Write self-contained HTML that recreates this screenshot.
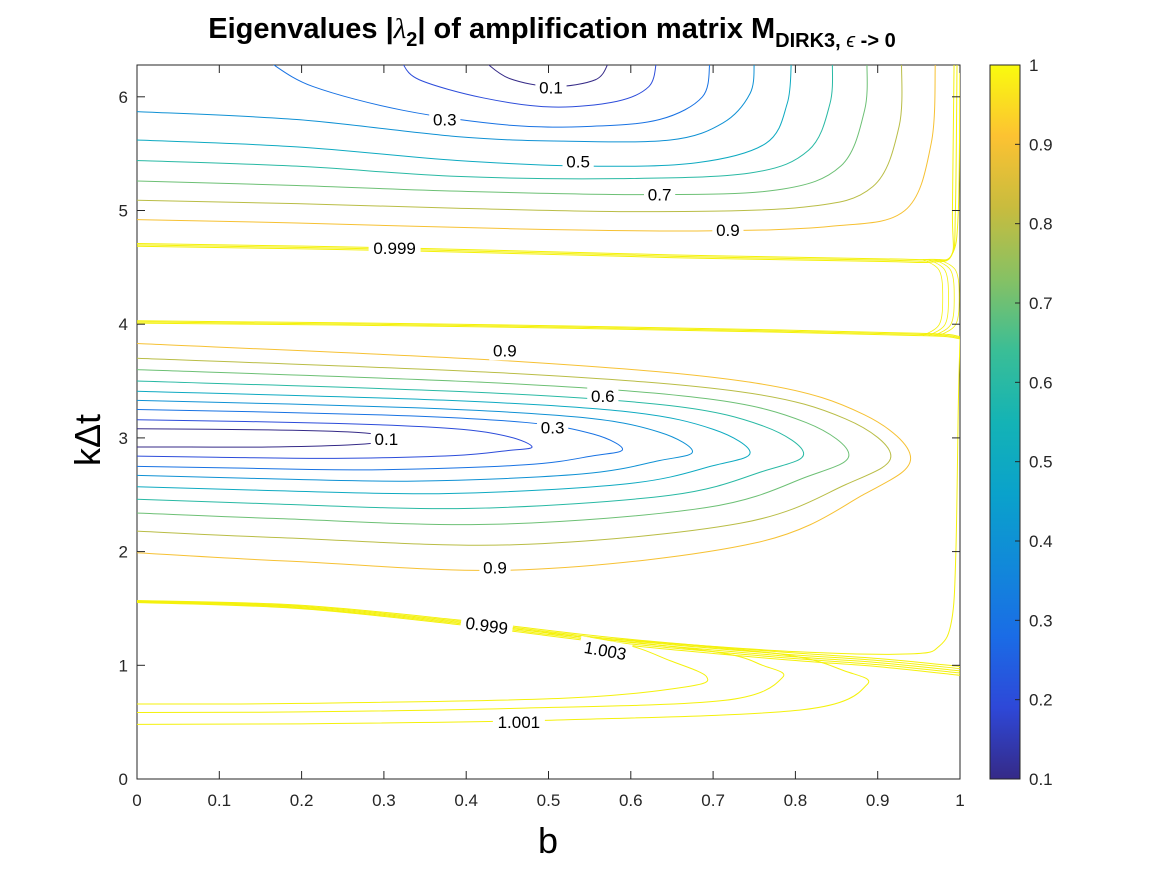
<!DOCTYPE html>
<html><head><meta charset="utf-8"><style>
body{margin:0;background:#fff;width:1167px;height:875px;overflow:hidden;font-family:"Liberation Sans",sans-serif}
svg text{font-family:"Liberation Sans",sans-serif}
</style></head><body>
<svg id="chart" width="1167" height="875" viewBox="0 0 1167 875">
<defs>
<linearGradient id="parula" x1="0" y1="1" x2="0" y2="0">
<stop offset="0" stop-color="#352a87"/><stop offset="0.1" stop-color="#2e48d8"/><stop offset="0.2" stop-color="#1a6ce6"/>
<stop offset="0.3" stop-color="#1189d9"/><stop offset="0.4" stop-color="#0aa2cb"/><stop offset="0.5" stop-color="#14b3b5"/>
<stop offset="0.6" stop-color="#3abe96"/><stop offset="0.7" stop-color="#86c164"/><stop offset="0.8" stop-color="#c8bc3e"/>
<stop offset="0.9" stop-color="#fcc232"/><stop offset="1" stop-color="#f9fb0e"/></linearGradient>
<clipPath id="plotclip"><rect x="137" y="65" width="823" height="714"/></clipPath>
</defs>
<text x="552" y="38" text-anchor="middle" font-size="29" font-weight="bold">Eigenvalues |<tspan font-style="italic" font-weight="normal" font-family="Liberation Serif">λ</tspan><tspan font-size="20" dy="8">2</tspan><tspan dy="-8">| of amplification matrix M</tspan><tspan font-size="20" dy="9">DIRK3, <tspan font-style="italic" font-weight="normal">ϵ</tspan> -&gt; 0</tspan></text>
<rect x="137" y="65" width="823" height="714" fill="#fff" stroke="#262626" stroke-width="1"/>
<g id="contours" clip-path="url(#plotclip)"></g>
<g id="labels"></g>
<g id="axes"></g>
<text x="548" y="853" text-anchor="middle" font-size="36">b</text>
<text transform="translate(100,440) rotate(-90)" text-anchor="middle" font-size="36">kΔt</text>
<rect x="990" y="65" width="30" height="714" fill="url(#parula)" stroke="#262626" stroke-width="1"/>
<g id="cbar"></g>
</svg>
<script>
const xTicks=[0,0.1,0.2,0.3,0.4,0.5,0.6,0.7,0.8,0.9,1];
const yTicks=[0,1,2,3,4,5,6];
const cbarTicks=[0.1,0.2,0.3,0.4,0.5,0.6,0.7,0.8,0.9,1];
const upperLevels=[0.1,0.2,0.3,0.4,0.5,0.6,0.7,0.8,0.9];
const upperPaths=[
[[0.424,6.3],[0.453,6.16],[0.505,6.09],[0.557,6.15],[0.573,6.3]],
[[0.322,6.3],[0.343,6.15],[0.421,5.99],[0.505,5.91],[0.583,5.96],[0.622,6.09],[0.631,6.3]],
[[0.162,6.3],[0.214,6.09],[0.324,5.88],[0.453,5.75],[0.551,5.74],[0.635,5.80],[0.687,6.0],[0.696,6.3]],
[[0,5.87],[0.194,5.80],[0.389,5.65],[0.518,5.61],[0.648,5.62],[0.712,5.77],[0.745,6.03],[0.75,6.3]],
[[0,5.62],[0.194,5.56],[0.389,5.44],[0.551,5.39],[0.68,5.42],[0.764,5.59],[0.79,5.94],[0.795,6.3]],
[[0,5.44],[0.194,5.39],[0.389,5.30],[0.583,5.28],[0.745,5.33],[0.816,5.53],[0.842,5.94],[0.845,6.3]],
[[0,5.26],[0.194,5.22],[0.389,5.17],[0.615,5.14],[0.777,5.18],[0.855,5.39],[0.884,5.88],[0.887,6.3]],
[[0,5.09],[0.194,5.06],[0.389,5.02],[0.615,4.99],[0.81,5.03],[0.894,5.21],[0.926,5.74],[0.929,6.3]],
[[0,4.92],[0.194,4.89],[0.453,4.84],[0.68,4.82],[0.842,4.86],[0.933,5.0],[0.965,5.59],[0.97,6.3]]];
const bandUpper=[[0,4.71],[0.324,4.67],[0.648,4.61],[0.907,4.575],[0.965,4.57],[0.99,4.61],[0.998,5.0],[1.0,6.3]];
const bandMiddle=[[0,4.01],[0.389,3.98],[0.777,3.93],[0.95,3.90],[0.985,3.89],[1.0,3.87]];
const bracketB=[0.975,0.982,0.989,0.995];
const bracketTop=4.57, bracketBot=3.90;
const rightEdge=[[1.0,3.87],[0.998,3.3],[0.995,2.0],[0.99,1.4],[0.975,1.17],[0.94,1.1],[0.8,1.12],[0.6,1.22]];
const bandLower=[[0,1.57],[0.194,1.53],[0.389,1.40],[0.583,1.24],[0.777,1.12],[0.9,1.06],[1.0,0.99]];
const lowerLevels=[0.1,0.2,0.3,0.4,0.5,0.6,0.7,0.8,0.9];
const lowerTop=[3.08,3.16,3.25,3.33,3.41,3.50,3.60,3.70,3.83];
const lowerBot=[2.92,2.84,2.75,2.67,2.57,2.46,2.34,2.18,1.99];
const lowerSag=[0.0,0.02,0.03,0.05,0.06,0.08,0.10,0.12,0.15];
const lowerNose=[0.32,0.48,0.59,0.675,0.745,0.81,0.865,0.916,0.94];
const lowerNoseK=[2.99,2.92,2.9,2.88,2.87,2.86,2.85,2.84,2.82];
const loopLevels=[1.003,1.002,1.001];
const loopPaths=[
[[0.45,1.33],[0.583,1.20],[0.648,1.04],[0.692,0.90],[0.667,0.81],[0.518,0.71],[0.2,0.665],[0,0.66]],
[[0.5,1.28],[0.7,1.12],[0.76,1.0],[0.784,0.89],[0.712,0.69],[0.453,0.62],[0.2,0.59],[0,0.585]],
[[0.55,1.25],[0.78,1.10],[0.86,0.95],[0.887,0.83],[0.81,0.61],[0.518,0.52],[0.2,0.485],[0,0.48]]];
const labelText=["0.1","0.3","0.5","0.7","0.9","0.999","0.9","0.6","0.3","0.1","0.9","0.999","1.003","1.001"];
const labelB=[0.503,0.374,0.536,0.635,0.718,0.313,0.447,0.566,0.505,0.303,0.435,0.425,0.569,0.464];
const labelK=[6.08,5.80,5.43,5.14,4.83,4.67,3.77,3.37,3.09,2.99,1.86,1.35,1.13,0.50];
const labelRot=[0,0,0,0,0,0,0,0,0,0,0,8,10,0];

const X=b=>137+b*823, Y=k=>779-k*113.7, CY=v=>779-(v-0.1)/0.9*714;
const NS="http://www.w3.org/2000/svg";
function parula(v){
  const st=["#352a87","#2e48d8","#1a6ce6","#1189d9","#0aa2cb","#14b3b5","#3abe96","#86c164","#c8bc3e","#fcc232","#f9fb0e"];
  let t=Math.max(0,Math.min(1,(v-0.1)/0.9))*10;const i=Math.min(9,Math.floor(t)),f=t-i;
  const a=st[i],c=st[i+1];const p=(s,o)=>parseInt(s.substr(o,2),16);
  const m=o=>Math.round(p(a,o)+(p(c,o)-p(a,o))*f).toString(16).padStart(2,'0');
  return "#"+m(1)+m(3)+m(5);
}
function smooth(pts){
  const P=pts.map(p=>[X(p[0]),Y(p[1])]);let d="M"+P[0][0]+","+P[0][1];
  for(let i=0;i<P.length-1;i++){const p0=P[Math.max(0,i-1)],p1=P[i],p2=P[i+1],p3=P[Math.min(P.length-1,i+2)];
    d+=" C"+(p1[0]+(p2[0]-p0[0])/6)+","+(p1[1]+(p2[1]-p0[1])/6)+" "+(p2[0]-(p3[0]-p1[0])/6)+","+(p2[1]-(p3[1]-p1[1])/6)+" "+p2[0]+","+p2[1];}
  return d;
}
const cg=document.getElementById('contours');
function addPath(pts,color,name,w){
  const p=document.createElementNS(NS,'path');p.setAttribute('d',smooth(pts));p.setAttribute('fill','none');
  p.setAttribute('stroke',color);p.setAttribute('stroke-width',w||1);
  
  
  cg.appendChild(p);
}
upperPaths.forEach((pts,i)=>addPath(pts,parula(upperLevels[i]),'upper-contour-'+upperLevels[i]));
const yel="#f4f10c";
[0,0.012,0.024].forEach((o,j)=>{addPath(bandUpper.map(p=>[p[0]-(p[0]>0.99?o*0.3:0),p[1]-o*(p[0]<0.99?1:0)]),yel,'contour-0.999-band-'+j,1);});
[0,0.01,0.02].forEach((o,j)=>{addPath(bandMiddle.map(p=>[p[0],p[1]+o]),yel,'contour-middle-band-'+j,1);});
bracketB.forEach((b,j)=>{addPath([[b-0.02,bracketTop],[b,bracketTop-0.1],[b+0.004,(bracketTop+bracketBot)/2],[b,bracketBot+0.1],[b-0.02,bracketBot]],yel,'right-bracket-'+j,0.8);});
addPath(rightEdge,yel,'right-edge-contour',1);
[0,0.015,0.03,0.045,0.06].forEach((o,j)=>{addPath(bandLower.map(p=>[p[0],p[1]-o*(0.3+p[0])]),yel,'contour-lower-band-'+j,1);});
lowerLevels.forEach((lv,i)=>{
  const n=lowerNose[i],t=lowerTop[i],b=lowerBot[i],nk=lowerNoseK[i],s=lowerSag[i];
  const pts=[[0,t],[0.5*n,t-(t-nk)*0.1-s*0.4],[0.8*n,t-(t-nk)*0.3-s*0.3],[0.94*n,t-(t-nk)*0.62],[n,nk],[0.94*n,b+(nk-b)*0.62],[0.8*n,b+(nk-b)*0.25-s*0.8],[0.5*n,b-s],[0.2*n,b-s*0.5],[0,b]];
  addPath(pts,parula(lv),'lower-contour-'+lv);
});
loopPaths.forEach((pts,i)=>addPath(pts,yel,'loop-contour-'+loopLevels[i]));
const lg=document.getElementById('labels');
labelText.forEach((s,i)=>{
  const x=X(labelB[i]),y=Y(labelK[i]);
  const r=document.createElementNS(NS,'rect');r.setAttribute('x',x-s.length*5.2);r.setAttribute('y',y-10);
  r.setAttribute('width',s.length*10.4);r.setAttribute('height',20);r.setAttribute('fill','#fff');
  r.setAttribute('transform','rotate('+labelRot[i]+','+x+','+y+')');
  
  
  lg.appendChild(r);
  const t=document.createElementNS(NS,'text');t.setAttribute('x',x);t.setAttribute('y',y+6);t.setAttribute('text-anchor','middle');
  t.setAttribute('font-size','17');t.setAttribute('transform','rotate('+labelRot[i]+','+x+','+y+')');t.textContent=s;
  
  
  lg.appendChild(t);
});
const ag=document.getElementById('axes');
function line(g,x1,y1,x2,y2,name){const l=document.createElementNS(NS,'line');l.setAttribute('x1',x1);l.setAttribute('y1',y1);l.setAttribute('x2',x2);l.setAttribute('y2',y2);l.setAttribute('stroke','#262626');
  
  
  g.appendChild(l);}
function txt(g,x,y,s,anchor,name){const t=document.createElementNS(NS,'text');t.setAttribute('x',x);t.setAttribute('y',y);t.setAttribute('text-anchor',anchor);t.setAttribute('font-size','17');t.setAttribute('fill','#262626');t.textContent=s;
  
  
  g.appendChild(t);}
xTicks.forEach(v=>{const x=X(v);line(ag,x,779,x,771,'x-tick');line(ag,x,65,x,73,'x-tick-top');txt(ag,x,806,String(v),'middle','x-tick-label');});
yTicks.forEach(v=>{const y=Y(v);line(ag,137,y,145,y,'y-tick');line(ag,960,y,952,y,'y-tick-right');txt(ag,128,y+6,String(v),'end','y-tick-label');});
const cb=document.getElementById('cbar');
cbarTicks.forEach(v=>{const y=CY(v);line(cb,1020,y,1015,y,'colorbar-tick');txt(cb,1029,y+6,String(v),'start','colorbar-tick-label');});
</script>
</body></html>
